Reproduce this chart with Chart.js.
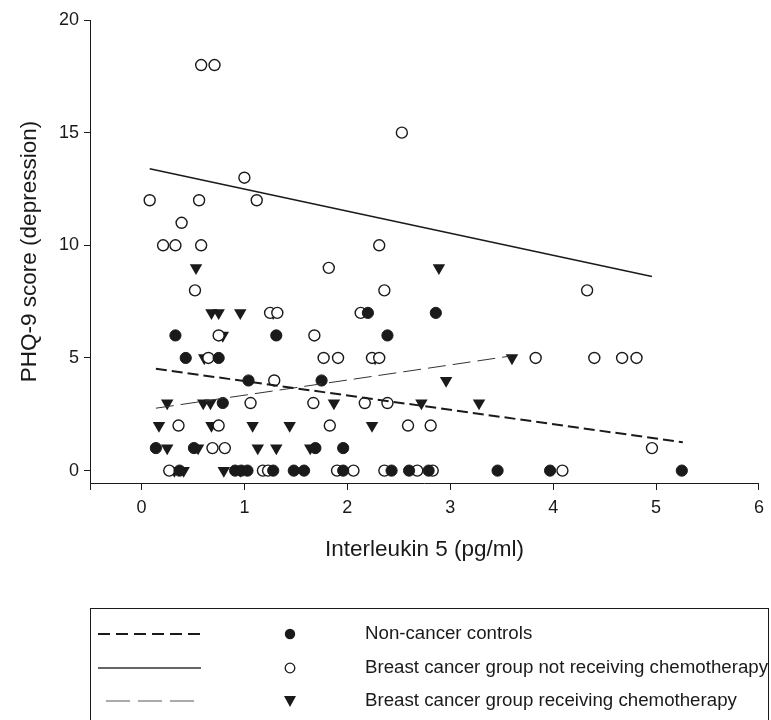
<!DOCTYPE html>
<html>
<head>
<meta charset="utf-8">
<script src="https://cdn.jsdelivr.net/npm/chart.js@4"></script>
<style>
html, body { margin: 0; padding: 0; background: #fff; }
</style>
</head>
<body>
<canvas id="chart" width="771" height="720"></canvas>
<script>
// PHQ-9 score vs interleukin 5, three groups
var controlsX = [2.20, 2.86, 0.33, 1.31, 2.39, 0.43, 0.75, 1.04, 1.75, 0.79, 0.14, 0.51, 1.69, 1.96,
	0.37, 0.91, 0.97, 1.03, 1.28, 1.48, 1.58, 1.96, 2.43, 2.60, 2.79, 3.46, 3.97, 5.25];
var controlsY = [7, 7, 6, 6, 6, 5, 5, 4, 4, 3, 1, 1, 1, 1,
	0, 0, 0, 0, 0, 0, 0, 0, 0, 0, 0, 0, 0, 0];

var noChemoX = [0.58, 0.71, 2.53, 1.00, 0.08, 0.56, 1.12, 0.39, 0.21, 0.33, 0.58, 2.31, 1.82,
	0.52, 2.36, 4.33, 1.25, 1.32, 2.13, 0.75, 1.68,
	0.65, 1.77, 1.91, 2.24, 2.31, 3.83, 4.40, 4.67, 4.81, 1.29,
	1.06, 1.67, 2.17, 2.39, 0.36, 0.75, 1.83, 2.59, 2.81, 0.69, 0.81, 4.96,
	0.27, 1.18, 1.23, 1.90, 2.06, 2.36, 2.68, 2.83, 4.09];
var noChemoY = [18, 18, 15, 13, 12, 12, 12, 11, 10, 10, 10, 10, 9,
	8, 8, 8, 7, 7, 7, 6, 6,
	5, 5, 5, 5, 5, 5, 5, 5, 5, 4,
	3, 3, 3, 3, 2, 2, 2, 2, 2, 1, 1, 1,
	0, 0, 0, 0, 0, 0, 0, 0, 0];

var chemoX = [0.53, 2.89, 0.68, 0.75, 0.96, 1.28, 0.79, 0.61, 2.27, 3.60, 2.96,
	0.25, 0.60, 0.67, 1.87, 2.72, 3.28, 0.17, 0.68, 1.08, 1.44, 2.24,
	0.25, 0.55, 1.13, 1.31, 1.64, 0.32, 0.41, 0.80, 0.96];
var chemoY = [9, 9, 7, 7, 7, 7, 6, 5, 5, 5, 4,
	3, 3, 3, 3, 3, 3, 2, 2, 2, 2, 2,
	1, 1, 1, 1, 1, 0, 0, 0, 0];

// regression lines (end points)
var controlsFitX = [0.14, 5.26], controlsFitY = [4.52, 1.26];
var noChemoFitX = [0.08, 4.96], noChemoFitY = [13.4, 8.62];
var chemoFitX = [0.14, 3.58], chemoFitY = [2.77, 5.08];

var groupNames = ['Non-cancer controls', 'Breast cancer group not receiving chemotherapy', 'Breast cancer group receiving chemotherapy'];
var xTicks = [-0.5, 0, 1, 2, 3, 4, 5, 6];
var yTicks = [0, 5, 10, 15, 20];

function pts(xs, ys) {
	var out = [];
	for (var i = 0; i < xs.length; i++) out.push({x: xs[i], y: ys[i]});
	return out;
}

var FONT = "'Liberation Sans', Arial, sans-serif";
var INK = '#1a1a1a';

var legendBox = {
	id: 'legendBox',
	afterDraw: function(chart) {
		var ctx = chart.ctx;
		ctx.save();
		ctx.strokeStyle = INK;
		ctx.lineWidth = 1;
		ctx.strokeRect(90.5, 608.5, 678, 130);
		var rows = [634, 668, 701];
		// line samples
		ctx.lineWidth = 2;
		ctx.setLineDash([12, 6]);
		ctx.beginPath(); ctx.moveTo(98, rows[0]); ctx.lineTo(201, rows[0]); ctx.stroke();
		ctx.lineWidth = 1.5;
		ctx.strokeStyle = '#333';
		ctx.setLineDash([]);
		ctx.beginPath(); ctx.moveTo(98, rows[1]); ctx.lineTo(201, rows[1]); ctx.stroke();
		ctx.lineWidth = 1;
		ctx.strokeStyle = '#555';
		ctx.setLineDash([24, 8]);
		ctx.beginPath(); ctx.moveTo(106, rows[2]); ctx.lineTo(194, rows[2]); ctx.stroke();
		ctx.setLineDash([]);
		// markers
		ctx.strokeStyle = INK;
		ctx.fillStyle = INK;
		ctx.beginPath(); ctx.arc(290, rows[0], 5.2, 0, Math.PI * 2); ctx.fill();
		ctx.lineWidth = 1.3;
		ctx.fillStyle = '#fff';
		ctx.beginPath(); ctx.arc(290, rows[1], 4.8, 0, Math.PI * 2); ctx.fill(); ctx.stroke();
		ctx.fillStyle = INK;
		ctx.beginPath();
		ctx.moveTo(284, rows[2] - 5); ctx.lineTo(296, rows[2] - 5); ctx.lineTo(290, rows[2] + 6);
		ctx.closePath(); ctx.fill();
		// text
		ctx.fillStyle = INK;
		ctx.font = '18.7px ' + FONT;
		ctx.textBaseline = 'middle';
		ctx.textAlign = 'left';
		for (var i = 0; i < groupNames.length; i++) ctx.fillText(groupNames[i], 365, rows[i]);
		ctx.restore();
	}
};

var ctx = document.getElementById('chart').getContext('2d');
var chart = new Chart(ctx, {
	type: 'scatter',
	data: {
		datasets: [{
			label: groupNames[0] + ' fit',
			type: 'line',
			data: pts(controlsFitX, controlsFitY),
			borderColor: INK,
			borderWidth: 2,
			borderDash: [11, 5],
			pointRadius: 0,
			fill: false
		}, {
			label: groupNames[1] + ' fit',
			type: 'line',
			data: pts(noChemoFitX, noChemoFitY),
			borderColor: INK,
			borderWidth: 1.5,
			pointRadius: 0,
			fill: false
		}, {
			label: groupNames[2] + ' fit',
			type: 'line',
			data: pts(chemoFitX, chemoFitY),
			borderColor: '#333',
			borderWidth: 1,
			borderDash: [18, 7],
			pointRadius: 0,
			fill: false
		}, {
			label: groupNames[0],
			data: pts(controlsX, controlsY),
			pointStyle: 'circle',
			pointRadius: 5.6,
			backgroundColor: INK,
			borderColor: INK,
			borderWidth: 1
		}, {
			label: groupNames[1],
			data: pts(noChemoX, noChemoY),
			pointStyle: 'circle',
			pointRadius: 5.5,
			backgroundColor: '#fff',
			borderColor: INK,
			borderWidth: 1.4
		}, {
			label: groupNames[2],
			data: pts(chemoX, chemoY),
			pointStyle: 'triangle',
			rotation: 180,
			pointRadius: 7.2,
			backgroundColor: INK,
			borderColor: INK,
			borderWidth: 0
		}]
	},
	options: {
		responsive: false,
		devicePixelRatio: 1,
		animation: false,
		layout: {padding: {left: 0, top: 20, right: 5, bottom: 157}},
		plugins: {
			legend: {display: false},
			tooltip: {enabled: false}
		},
		scales: {
			x: {
				type: 'linear',
				min: -0.5,
				max: 6,
				afterBuildTicks: function(axis) {
					axis.ticks = xTicks.map(function(v) { return {value: v}; });
				},
				afterFit: function(axis) { axis.height = 80; },
				grid: {display: true, drawOnChartArea: false, drawTicks: true, tickLength: 7, color: INK},
				border: {display: true, color: INK, width: 1},
				ticks: {
					color: INK,
					font: {family: FONT, size: 18},
					padding: 7,
					maxRotation: 0,
					callback: function(v) { return v < 0 ? '' : v; }
				},
				title: {
					display: true,
					text: 'Interleukin 5 (pg/ml)',
					color: INK,
					font: {family: FONT, size: 22.5},
					padding: {top: 0, bottom: 0}
				}
			},
			y: {
				type: 'linear',
				min: -0.55,
				max: 20,
				afterBuildTicks: function(axis) {
					axis.ticks = yTicks.map(function(v) { return {value: v}; });
				},
				afterFit: function(axis) { axis.width = 90; },
				grid: {display: true, drawOnChartArea: false, drawTicks: true, tickLength: 6, color: INK},
				border: {display: true, color: INK, width: 1},
				ticks: {
					color: INK,
					font: {family: FONT, size: 18},
					padding: 5
				},
				title: {
					display: true,
					text: 'PHQ-9 score (depression)',
					color: INK,
					font: {family: FONT, size: 22.5},
					padding: {top: 16, bottom: 0}
				}
			}
		}
	},
	plugins: [legendBox]
});
</script>
</body>
</html>
